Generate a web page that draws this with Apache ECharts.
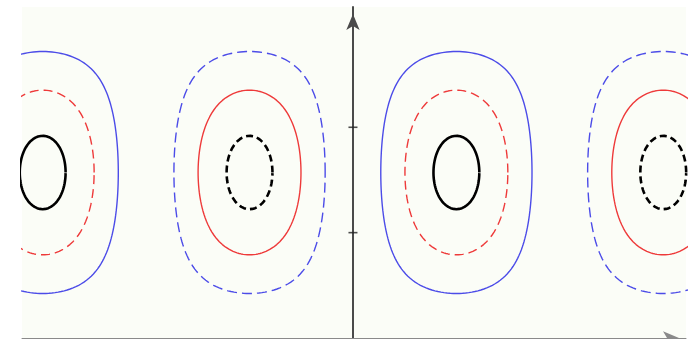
<!DOCTYPE html>
<html>
<head>
<meta charset="utf-8">
<script src="https://cdn.jsdelivr.net/npm/echarts@6/dist/echarts.min.js"></script>
<style>
  html, body { margin: 0; padding: 0; background: #ffffff; }
  #chart { width: 696px; height: 339px; }
</style>
</head>
<body>
<div id="chart"></div>
<script>
// Standing-wave field f(x, y) = sin(pi*x/2) * sin(y) drawn as contour lines.
const lobeCenters = [-3, -1, 1, 3];                 // x of each extremum, at y = pi/2
const contourLevels = [0.94, -0.94, 0.71, -0.71, 0.41, -0.41];
const levelColors = ['#000000', '#000000', '#ee3a3a', '#ee3a3a', '#4c4ce8', '#4c4ce8'];
const levelDashed = [false, true, true, false, false, true];
const yTickValues = [1, 2];

const HALF_PI = Math.PI / 2;

// Closed contour |f| = c around one extremum, traced by bisection along rays.
function traceContour(xc, c) {
  const pts = [];
  const n = 240;
  for (let i = 0; i <= n; i++) {
    const t = (2 * Math.PI * i) / n;
    const dx = Math.cos(t), dy = Math.sin(t);
    const a = HALF_PI * Math.abs(dx), b = Math.abs(dy);
    let hi = Math.min(a > 1e-9 ? HALF_PI / a : Infinity, b > 1e-9 ? HALF_PI / b : Infinity);
    let lo = 0;
    for (let k = 0; k < 60; k++) {
      const mid = (lo + hi) / 2;
      if (Math.cos(a * mid) * Math.cos(b * mid) > c) lo = mid; else hi = mid;
    }
    const r = (lo + hi) / 2;
    pts.push([xc + r * dx, HALF_PI + r * dy]);
  }
  return pts;
}

const series = [];
lobeCenters.forEach(function (xc) {
  const sign = Math.sign(Math.sin(HALF_PI * xc));
  contourLevels.forEach(function (lv, i) {
    if (Math.sign(lv) !== sign) return;
    const isBlack = levelColors[i] === '#000000';
    let dash = 'solid';
    if (levelDashed[i]) dash = isBlack ? [7, 4] : (levelColors[i] === '#ee3a3a' ? [9, 5] : [10, 5]);
    series.push({
      type: 'line',
      data: traceContour(xc, Math.abs(lv)),
      showSymbol: false,
      symbol: 'none',
      silent: true,
      clip: true,
      lineStyle: { color: levelColors[i], width: isBlack ? 2.6 : 1.4, type: dash }
    });
  });
});

// Tick marks that cross the vertical axis at x = 0
series.push({
  type: 'scatter',
  silent: true,
  symbol: 'rect',
  symbolSize: [9, 1.6],
  itemStyle: { color: '#222222' },
  data: yTickValues.map(function (v) { return [0, v]; })
});

const chart = echarts.init(document.getElementById('chart'), null, { renderer: 'canvas' });
chart.setOption({
  animation: false,
  backgroundColor: '#ffffff',
  grid: {
    left: 22, right: 10, top: 7, bottom: 1,
    show: true, backgroundColor: '#fbfdf7', borderWidth: 0
  },
  xAxis: {
    type: 'value', min: -3.2, max: 3.22,
    axisLine: {
      show: true, onZero: true,
      symbol: ['none', 'arrow'], symbolSize: [10, 16], symbolOffset: [0, -7],
      lineStyle: { color: '#8a8a8a', width: 1 }
    },
    axisTick: { show: false },
    axisLabel: { show: false },
    splitLine: { show: false }
  },
  yAxis: {
    type: 'value', min: 0, max: Math.PI,
    axisLine: {
      show: true, onZero: true,
      symbol: ['none', 'arrow'], symbolSize: [10, 16], symbolOffset: [0, -7],
      lineStyle: { color: '#4a4a4a', width: 2 }
    },
    axisTick: { show: false },
    axisLabel: { show: false },
    splitLine: { show: false }
  },
  series: series
});
</script>
</body>
</html>
